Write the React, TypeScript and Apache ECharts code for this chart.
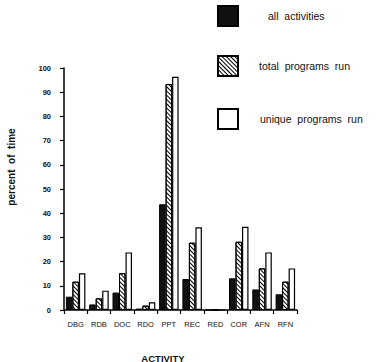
import React, { useEffect, useRef } from "react";
import * as echarts from "echarts";

// Activity categories along the x axis
const categories = ["DBG", "RDB", "DOC", "RDO", "PPT", "REC", "RED", "COR", "AFN", "RFN"];

// Percent of time per activity
const allActivities = [5.5, 2.3, 7.2, 0.6, 43.7, 12.8, 0, 13.1, 8.5, 6.5];
const totalProgramsRun = [11.7, 4.8, 15.2, 1.8, 93.4, 27.8, 0, 28.2, 17.2, 11.7];
const uniqueProgramsRun = [15.2, 8.0, 23.8, 3.2, 96.4, 34.2, 0, 34.4, 23.8, 17.2];

const seriesNames = ["all activities", "total programs run", "unique programs run"];

const FONT = "'Liberation Sans', Arial, Helvetica, sans-serif";

export default function App() {
  const ref = useRef<HTMLDivElement>(null);

  useEffect(() => {
    if (!ref.current) return;
    const chart = echarts.init(ref.current, null, { renderer: "svg" });

    // Back-slash hatching for the "total programs run" bars
    const hatch = {
      symbol: "rect",
      symbolSize: 1,
      color: "#000",
      dashArrayX: [[1, 0]],
      dashArrayY: [1, 1.4],
      rotation: Math.PI / 4,
    };

    const baseBar = {
      type: "bar" as const,
      barWidth: 6.5,
      barGap: "0%",
      silent: true,
    };

    const legendText = (pad: number) => ({
      fontFamily: FONT,
      fontSize: 10.5,
      color: "#111",
      padding: [0, 0, 0, pad],
    });

    const spaced = (n: string) => n.replace(/ /g, "  ");

    const legendBase = {
      left: 212,
      itemWidth: 20,
      itemHeight: 20,
      icon: "rect",
      formatter: spaced,
    };

    chart.setOption({
      animation: false,
      backgroundColor: "#fff",
      grid: { left: 64, right: 79, top: 68, bottom: 52, containLabel: false },
      legend: [
        { ...legendBase, data: [seriesNames[0]], top: 0, textStyle: legendText(25) },
        { ...legendBase, data: [seriesNames[1]], top: 50, textStyle: legendText(16) },
        { ...legendBase, data: [seriesNames[2]], top: 103, textStyle: legendText(17) },
      ],
      xAxis: {
        type: "category",
        data: categories,
        axisLine: { lineStyle: { color: "#000", width: 1.5 } },
        axisTick: { show: true, length: 4, lineStyle: { color: "#000", width: 1.2 } },
        axisLabel: {
          fontFamily: FONT,
          fontSize: 7.5,
          color: "#111",
          margin: 10,
        },
      },
      yAxis: {
        type: "value",
        min: 0,
        max: 100,
        interval: 10,
        splitLine: { show: false },
        axisLine: { show: true, lineStyle: { color: "#000", width: 1.5 } },
        axisTick: { show: true, length: 4, lineStyle: { color: "#000", width: 1.2 } },
        axisLabel: {
          fontFamily: FONT,
          fontSize: 7.5,
          fontWeight: "bold",
          color: "#111",
          margin: 13,
          padding: [0, 0, 6, 0],
        },
      },
      series: [
        {
          ...baseBar,
          name: seriesNames[0],
          data: allActivities,
          itemStyle: { color: "#111", borderColor: "#000", borderWidth: 1 },
        },
        {
          ...baseBar,
          name: seriesNames[1],
          data: totalProgramsRun,
          itemStyle: { color: "#fff", borderColor: "#000", borderWidth: 1, decal: hatch },
        },
        {
          ...baseBar,
          name: seriesNames[2],
          data: uniqueProgramsRun,
          itemStyle: { color: "#fff", borderColor: "#000", borderWidth: 1.2 },
        },
      ],
      graphic: [
        {
          type: "text",
          x: 11,
          y: 167,
          rotation: Math.PI / 2,
          style: {
            text: "percent  of  time",
            fontFamily: FONT,
            fontSize: 10,
            fontWeight: "bold",
            fill: "#111",
            align: "center",
            verticalAlign: "middle",
          },
        },
        {
          type: "text",
          x: 163,
          y: 358,
          style: {
            text: "ACTIVITY",
            fontFamily: FONT,
            fontSize: 9.5,
            fontWeight: "bold",
            fill: "#111",
            align: "center",
            verticalAlign: "middle",
          },
        },
      ],
    });

    return () => chart.dispose();
  }, []);

  return (
    <div
      ref={ref}
      style={{ position: "fixed", left: 0, top: 0, width: 376, height: 362 }}
    />
  );
}
